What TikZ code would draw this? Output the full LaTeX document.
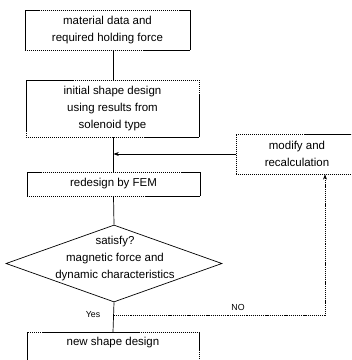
\documentclass[tikz,border=0pt]{standalone}
\usepackage{fontspec}
\setmainfont{Liberation Sans}
\usetikzlibrary{arrows.meta,shapes.geometric,calc}
\tikzset{
  stepbox/.style={rectangle,draw=black,dash pattern=on 1.2pt off 0.5pt,line width=0.55pt,align=center,
    font=\fontsize{9.8}{14.5}\selectfont,inner sep=0pt},
  decision/.style={diamond,draw=black,line width=0.6pt,inner sep=0pt,aspect=2.8},
  flow/.style={draw=black,line width=0.6pt},
  flowback/.style={-{Stealth[length=1.6mm,width=1.2mm]},draw=black,line width=0.55pt,dash pattern=on 1pt off 0.8pt},
  flowin/.style={-{Stealth[length=1.6mm,width=1.2mm]},draw=black,line width=0.6pt},
  tag/.style={font=\fontsize{7.5}{9}\selectfont,inner sep=1pt},
}
\begin{document}
\begin{tikzpicture}[x=0.3mm,y=-0.3mm]
\useasboundingbox (0,0) rectangle (351,360);
\clip (0,0) rectangle (351,360);

% --- main column ---
\node[stepbox,minimum width=49.5mm,minimum height=12mm] (b1) at (107.5,30)
  {material data and\\required holding force};
\node[stepbox,minimum width=51.9mm,minimum height=17.1mm] (b2) at (112.5,108.5)
  {initial shape design\\using results from\\solenoid type};
\node[stepbox,minimum width=51.9mm,minimum height=7.2mm] (b3) at (113.5,184)
  {redesign by FEM};
\node[decision,minimum width=64.8mm,minimum height=23.1mm] (dm) at (114,263.5) {};
\node[align=center,font=\fontsize{9.8}{14.5}\selectfont,inner sep=0pt] (dmtxt) at (115,259)
  {satisfy?\\magnetic force and\\dynamic characteristics};
\node[stepbox,minimum width=51.6mm,text depth=9mm,anchor=north,inner ysep=1.5mm] (b4) at (113,332)
  {new shape design};

% --- side box ---
\node[stepbox,minimum width=36.6mm,minimum height=12mm] (mod) at (297,154)
  {modify and\\recalculation};

% junctions
\coordinate (j1) at (b3.north |- mod.west);
\coordinate (j2) at ($(dm.south)!0.45!(b4.north)$);
\coordinate (c1) at (325,0);

% connectors
\draw[flow] (b1.south -| b3.north) -- (b2.north -| b3.north);
\draw[flow] (b2.south -| b3.north) -- (b3.north);
\draw[flowin] (mod.west) -- (j1);
\draw[flow] (b3.south) -- (dm.north);
\draw[flow] (dm.south) -- (b4.north);
\draw[flowback] (j2) -- (j2 -| c1) -- (c1 |- mod.south);

% labels
\node[tag,anchor=east] (yes) at ($(j2)+(-12,-1)$) {Yes};
\node[tag] (no) at (238,307) {NO};
\end{tikzpicture}
\end{document}
